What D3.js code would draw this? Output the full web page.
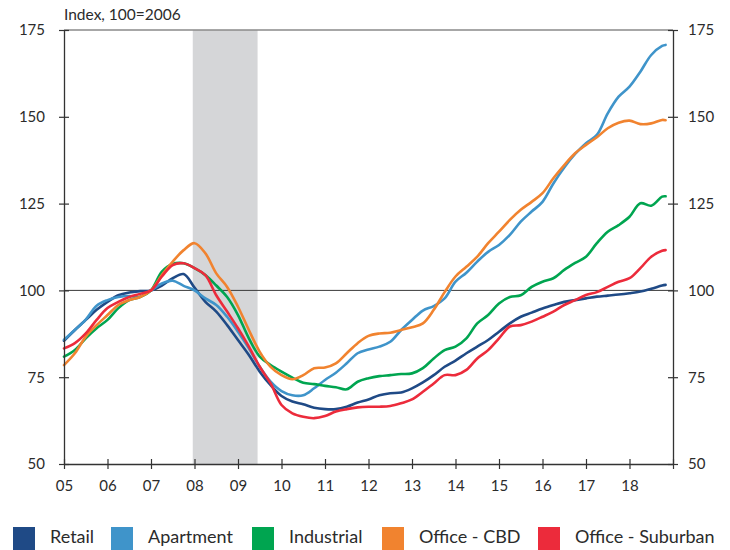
<!DOCTYPE html>
<html>
<head>
<meta charset="utf-8">
<script src="https://cdn.jsdelivr.net/npm/d3@7"></script>
<style>
  body { margin: 0; background: #fff; }
  svg text { font-family: Lato, "Open Sans", sans-serif; fill: #2b2b2b; }
</style>
</head>
<body>
<svg id="chart"></svg>
<script>
// Quarterly observations, decimal years
const dates = [
  2005.0, 2005.25, 2005.5, 2005.75, 2006.0, 2006.25, 2006.5, 2006.75,
  2007.0, 2007.25, 2007.5, 2007.75, 2008.0, 2008.25, 2008.5, 2008.75,
  2009.0, 2009.25, 2009.5, 2009.75, 2010.0, 2010.25, 2010.5, 2010.75,
  2011.0, 2011.25, 2011.5, 2011.75, 2012.0, 2012.25, 2012.5, 2012.75,
  2013.0, 2013.25, 2013.5, 2013.75, 2014.0, 2014.25, 2014.5, 2014.75,
  2015.0, 2015.25, 2015.5, 2015.75, 2016.0, 2016.25, 2016.5, 2016.75,
  2017.0, 2017.25, 2017.5, 2017.75, 2018.0, 2018.25, 2018.5, 2018.75, 2018.83
];

const retail = [
  85.5, 88.6, 91.5, 94.4, 96.7, 98.6, 99.4, 99.8,
  100, 101.4, 103.5, 104.7, 100.8, 96.7, 93.9, 90.0,
  85.7, 81.4, 76.6, 72.7, 69.6, 68.0, 67.2, 66.2,
  65.8, 65.8, 66.5, 67.7, 68.6, 69.8, 70.4, 70.6,
  71.8, 73.5, 75.6, 78.0, 79.8, 81.9, 83.8, 85.7,
  88.1, 90.5, 92.4, 93.6, 94.8, 95.8, 96.7, 97.2,
  97.7, 98.2, 98.5, 98.8, 99.2, 99.7, 100.5, 101.4, 101.6
];

const apartment = [
  85.8, 88.6, 91.6, 95.6, 97.2, 98.1, 98.4, 98.2,
  100, 102.0, 102.8, 101.3, 100.0, 97.7, 95.8, 92.4,
  88.1, 83.3, 78.0, 73.7, 71.0, 69.8, 69.8, 71.8,
  74.2, 76.3, 79.0, 81.9, 83.0, 83.8, 85.2, 88.6,
  91.5, 94.2, 95.5, 97.7, 102.5, 105.1, 108.3, 111.1,
  113.1, 116.0, 119.8, 122.7, 125.5, 130.8, 135.4, 139.3,
  142.4, 144.8, 151.0, 155.8, 158.7, 163.0, 167.8, 170.4, 170.7
];

const industrial = [
  80.9, 82.8, 86.2, 89.1, 91.5, 94.9, 97.2, 98.1,
  100, 105.4, 107.6, 107.8, 106.4, 104.4, 101.4, 98.1,
  92.9, 86.2, 80.9, 78.5, 76.6, 74.9, 73.4, 73.0,
  72.5, 72.1, 71.5, 73.7, 74.7, 75.3, 75.6, 75.9,
  76.1, 77.6, 80.4, 82.8, 83.8, 86.2, 90.5, 92.9,
  96.2, 98.1, 98.6, 101.0, 102.5, 103.5, 105.9, 107.9,
  109.7, 113.6, 116.9, 118.8, 121.2, 125.1, 124.4, 127.0, 127.1
];

const officeCbd = [
  78.5, 81.9, 86.7, 90.0, 92.9, 95.8, 97.2, 98.1,
  100, 104.4, 108.3, 111.6, 113.6, 110.7, 104.9, 101.0,
  95.3, 88.6, 82.3, 78.0, 75.6, 74.4, 75.6, 77.6,
  77.8, 79.0, 81.9, 84.8, 86.9, 87.6, 87.8, 88.6,
  89.4, 90.5, 94.4, 99.5, 104.0, 106.8, 109.7, 113.6,
  116.9, 120.3, 123.2, 125.5, 128.0, 132.3, 136.1, 139.5,
  141.9, 144.1, 146.7, 148.3, 148.9, 147.9, 148.1, 149.1, 149.0
];

const officeSuburban = [
  83.3, 84.8, 87.6, 91.5, 94.9, 96.7, 98.1, 99.0,
  100, 104.0, 107.3, 107.8, 106.4, 104.4, 98.6, 93.9,
  89.1, 83.8, 78.0, 73.2, 67.0, 64.6, 63.6, 63.2,
  63.8, 65.1, 65.8, 66.3, 66.5, 66.5, 66.7, 67.5,
  68.6, 70.8, 73.2, 75.6, 75.6, 77.1, 80.4, 82.8,
  86.2, 89.6, 90.0, 91.0, 92.4, 93.9, 95.8, 97.2,
  98.7, 99.5, 101.0, 102.5, 103.5, 106.4, 109.7, 111.4, 111.6
];

const seriesNames = ['Retail', 'Apartment', 'Industrial', 'Office - CBD', 'Office - Suburban'];
const seriesValues = [retail, apartment, industrial, officeCbd, officeSuburban];
const colors = ['#1f4a86', '#3f94ca', '#00a550', '#f1832f', '#ec2b3b'];

const yTicks = [50, 75, 100, 125, 150, 175];
const xTickYears = [2005, 2006, 2007, 2008, 2009, 2010, 2011, 2012, 2013, 2014, 2015, 2016, 2017, 2018, 2019];
const xTickLabels = ['05', '06', '07', '08', '09', '10', '11', '12', '13', '14', '15', '16', '17', '18', ''];
const recession = [2007.96, 2009.45];

const width = 730, height = 550;
const margin = {top: 30, right: 57, bottom: 86, left: 64};
const innerW = width - margin.left - margin.right;
const innerH = height - margin.top - margin.bottom;

const svg = d3.select('#chart')
    .attr('width', width)
    .attr('height', height);

const chart = svg.append('g')
    .attr('transform', `translate(${margin.left},${margin.top})`);

const x = d3.scaleLinear().domain([2005, 2019]).range([0, innerW]);
const y = d3.scaleLinear().domain([50, 175]).range([innerH, 0]);

// Recession shading
chart.append('rect')
    .attr('x', x(recession[0]))
    .attr('y', 0)
    .attr('width', x(recession[1]) - x(recession[0]))
    .attr('height', innerH)
    .attr('fill', '#d5d6d8');

// Top frame line
chart.append('line')
    .attr('x1', 0).attr('x2', innerW)
    .attr('y1', 0).attr('y2', 0)
    .attr('stroke', '#8a8a8a')
    .attr('stroke-width', 1.5);

// 100 reference line
chart.append('line')
    .attr('x1', 0).attr('x2', innerW)
    .attr('y1', y(100)).attr('y2', y(100))
    .attr('stroke', '#3a3a3a')
    .attr('stroke-width', 1);

// Lines
const line = d3.line()
    .x((d, i) => x(dates[i]))
    .y(d => y(d))
    .curve(d3.curveCatmullRom.alpha(0.5));

chart.selectAll('.series')
    .data(seriesValues)
  .join('path')
    .attr('class', 'series')
    .attr('d', d => line(d))
    .attr('fill', 'none')
    .attr('stroke', (d, i) => colors[i])
    .attr('stroke-width', 2.6)
    .attr('stroke-linejoin', 'round')
    .attr('stroke-linecap', 'round');

// Axes
const styleAxis = g => {
  g.select('.domain').attr('stroke', '#333').attr('stroke-width', 1.3);
  g.selectAll('.tick line').attr('stroke', '#333').attr('stroke-width', 1.2);
  g.selectAll('.tick text').style('font-size', '15px').attr('fill', '#2b2b2b');
};

const yLeft = chart.append('g')
    .call(d3.axisLeft(y).tickValues(yTicks).tickSize(5).tickPadding(14).tickSizeOuter(0));
yLeft.selectAll('.tick line').attr('x1', 5).attr('x2', -5);
styleAxis(yLeft);

const yRight = chart.append('g')
    .attr('transform', `translate(${innerW},0)`)
    .call(d3.axisRight(y).tickValues(yTicks).tickSize(5).tickPadding(10).tickSizeOuter(0));
yRight.selectAll('.tick line').attr('x1', -5).attr('x2', 5);
styleAxis(yRight);

const xAxis = chart.append('g')
    .attr('transform', `translate(0,${innerH})`)
    .call(d3.axisBottom(x).tickValues(xTickYears).tickSize(5).tickPadding(11)
      .tickSizeOuter(0).tickFormat((d, i) => xTickLabels[i]));
xAxis.selectAll('.tick line').attr('y1', -5).attr('y2', 5);
styleAxis(xAxis);

// Axis title
svg.append('text')
    .attr('x', margin.left)
    .attr('y', 20)
    .style('font-size', '15.5px')
    .text('Index, 100=2006');

// Legend
const legendX = [13, 111, 252, 382, 538];
const legend = svg.append('g').selectAll('g')
    .data(seriesNames)
  .join('g')
    .attr('transform', (d, i) => `translate(${legendX[i]},527)`);

legend.append('rect')
    .attr('width', 22)
    .attr('height', 23)
    .attr('fill', (d, i) => colors[i]);

legend.append('text')
    .attr('x', 37)
    .attr('y', 16)
    .style('font-size', '18px')
    .text(d => d);
</script>
</body>
</html>
